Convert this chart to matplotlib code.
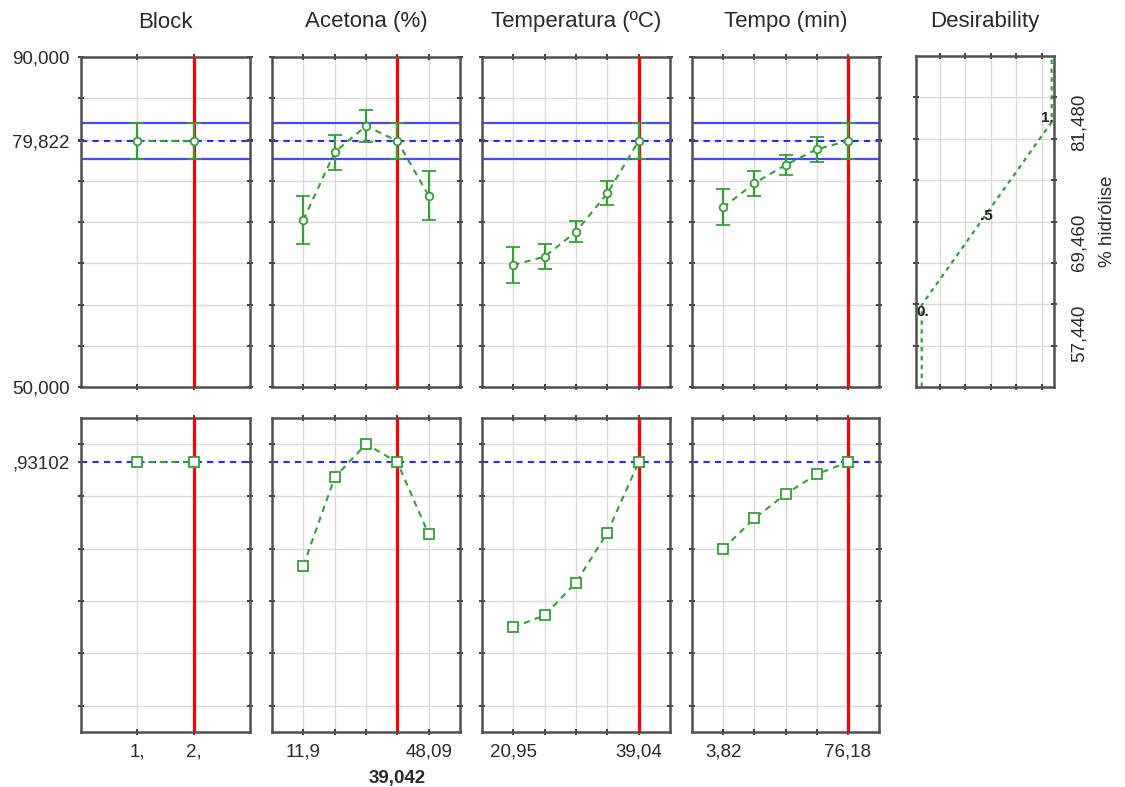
import numpy as np
import matplotlib
matplotlib.use('Agg')
import matplotlib.pyplot as plt
import matplotlib.transforms as mtransforms

plt.rcParams['font.family'] = ['Liberation Sans', 'DejaVu Sans']

# ---- valores ----
fatores = ['Block', 'Acetona (%)', 'Temperatura (ºC)', 'Tempo (min)']

niveis_block = [1, 2]
niveis_acetona = [11.9, 20.95, 30.0, 39.042, 48.09]
niveis_temp = [20.95, 25.47, 30.0, 34.52, 39.04]
niveis_tempo = [3.82, 21.91, 40.0, 58.09, 76.18]

# % hidrolise prevista e meia largura do intervalo de confianca
hid_block = [79.822, 79.822]
ic_block = [2.22, 2.22]
hid_acetona = [70.24, 78.45, 81.64, 79.822, 73.19]
ic_acetona = [2.87, 2.12, 1.90, 2.22, 3.00]
hid_temp = [64.79, 65.80, 68.83, 73.48, 79.822]
ic_temp = [2.17, 1.55, 1.25, 1.45, 2.22]
hid_tempo = [71.78, 74.69, 76.91, 78.81, 79.822]
ic_tempo = [2.16, 1.55, 1.21, 1.48, 2.22]

# desirability
des_block = [0.931, 0.931]
des_acetona = [0.535, 0.873, 1.0, 0.931, 0.656]
des_temp = [0.300, 0.346, 0.471, 0.662, 0.931]
des_tempo = [0.601, 0.716, 0.809, 0.885, 0.931]

otimo = [2, 39.042, 39.04, 76.18]
hid_otimo = 79.822
ic_otimo = 2.22
des_otimo = 0.93102

rotulos_x = [['1,', '2,'], ['11,9', '48,09'], ['20,95', '39,04'], ['3,82', '76,18']]
rotulo_otimo = [None, '39,042', None, None]

# funcao desirability da resposta
desir_valor = [0, 0.5, 1]
desir_resp = [57.44, 69.46, 81.48]
desir_rotulos = ['0.', '.5', '1.']
desir_ticks = ['57,440', '69,460', '81,480']

niveis = [niveis_block, niveis_acetona, niveis_temp, niveis_tempo]
hid = [hid_block, hid_acetona, hid_temp, hid_tempo]
ic = [ic_block, ic_acetona, ic_temp, ic_tempo]
des = [des_block, des_acetona, des_temp, des_tempo]

##################################################################
W, H = 1125, 787
fig = plt.figure(figsize=(W / 100, H / 100), dpi=100)


def caixa(x0, y0, x1, y1):
    return [x0 / W, 1 - y1 / H, (x1 - x0) / W, (y1 - y0) / H]


colunas = [(81, 250), (272, 460), (482, 670), (692, 879)]
verde = '#35a035'
azul = '#4848ff'
cinza_txt = '#2a2a2a'
fs = 13.5


def estilo(ax):
    for s in ax.spines.values():
        s.set_color('#505050')
        s.set_linewidth(1.8)
    ax.set_axisbelow(True)
    ax.tick_params(which='both', direction='inout', length=4, width=1.2,
                   color='#222222', top=True, right=True,
                   labelsize=fs, labelcolor=cinza_txt, pad=6)


for i in range(4):
    x0, x1 = colunas[i]
    lv = niveis[i]
    if i == 0:
        xlim = (0, 3)
    else:
        passo = (lv[-1] - lv[0]) / (len(lv) - 1)
        xlim = (lv[0] - passo, lv[-1] + passo)

    # ---- linha de cima: % hidrolise ----
    ax = fig.add_axes(caixa(x0, 57, x1, 387))
    estilo(ax)
    ax.set_xlim(*xlim)
    ax.set_ylim(50, 90)
    ax.set_xticks(lv)
    ax.set_yticks([50, hid_otimo, 90])
    ax.set_yticks(np.arange(55, 90, 5), minor=True)
    ax.grid(True, axis='x', which='major', color='#dadada', lw=1)
    ax.grid(True, axis='y', which='minor', color='#dadada', lw=1)
    ax.tick_params(labelbottom=False)
    if i == 0:
        ax.set_yticklabels(['50,000', '79,822', '90,000'])
    else:
        ax.tick_params(labelleft=False)

    ax.axhline(hid_otimo + ic_otimo, color=azul, lw=1.6, zorder=2)
    ax.axhline(hid_otimo - ic_otimo, color=azul, lw=1.6, zorder=2)
    ax.axhline(hid_otimo, color='#2a2aff', lw=1.5, ls=(0, (3, 2.5)), zorder=2)
    ax.axvline(otimo[i], color='red', lw=2.3, zorder=3)
    ax.errorbar(lv, hid[i], yerr=ic[i], color=verde, lw=1.5, ls=(0, (3, 2.5)),
                marker='o', ms=5.5, mfc='white', mec=verde, mew=1.3,
                capsize=5, capthick=1.4, elinewidth=1.6, zorder=4)

    fig.text((x0 + x1) / 2 / W, 1 - 22 / H, fatores[i], ha='center',
             va='center', fontsize=16, color=cinza_txt)

    # ---- linha de baixo: desirability ----
    ax2 = fig.add_axes(caixa(x0, 418, x1, 732))
    estilo(ax2)
    ax2.set_xlim(*xlim)
    ax2.set_ylim(-0.1, 1.1)
    ax2.set_xticks(lv)
    rot = [''] * len(lv)
    rot[0], rot[-1] = rotulos_x[i]
    ax2.set_xticklabels(rot)
    ax2.set_yticks([des_otimo])
    ax2.set_yticks(np.arange(0, 1.01, 0.2), minor=True)
    ax2.grid(True, axis='x', which='major', color='#dadada', lw=1)
    ax2.grid(True, axis='y', which='minor', color='#dadada', lw=1)
    if i == 0:
        ax2.set_yticklabels([',93102'])
    else:
        ax2.tick_params(labelleft=False)

    ax2.axhline(des_otimo, color='#2a2aff', lw=1.5, ls=(0, (3, 2.5)), zorder=2)
    ax2.axvline(otimo[i], color='red', lw=2.3, zorder=3)
    ax2.plot(lv, des[i], color=verde, lw=1.5, ls=(0, (3, 2.5)),
             marker='s', ms=6.5, mfc='white', mec=verde, mew=1.3, zorder=4)

    if rotulo_otimo[i]:
        trans = mtransforms.blended_transform_factory(ax2.transData, ax2.transAxes)
        ax2.text(otimo[i], -0.147, rotulo_otimo[i], transform=trans,
                 ha='center', va='center', fontsize=fs, fontweight='bold',
                 color=cinza_txt)

# ---- painel da funcao desirability ----
axd = fig.add_axes(caixa(916, 56, 1054, 387))
estilo(axd)
ylim_d = (46.67, 90.15)
axd.set_xlim(-0.044, 1.018)
axd.set_ylim(*ylim_d)
axd.set_xticks([])
axd.set_xticks(np.linspace(0.14, 0.925, 5), minor=True)
axd.set_yticks(desir_resp)
axd.set_yticks(np.linspace(ylim_d[0], ylim_d[1], 9)[1:-1], minor=True)
axd.grid(True, which='minor', color='#dadada', lw=1)
axd.tick_params(which='major', length=0, labelleft=False, labelright=True,
                pad=12)
axd.set_yticklabels(desir_ticks, rotation=90)
for t, va in zip(axd.get_yticklabels(), ['top', 'top', 'center']):
    t.set_va(va)
axd.yaxis.set_label_position('right')
axd.set_ylabel('% hidrólise', fontsize=fs, color=cinza_txt, rotation=90,
               labelpad=8)

axd.plot([0] + desir_valor + [1], [ylim_d[0]] + desir_resp + [ylim_d[1]],
         color=verde, lw=1.6, ls=(0, (2, 2)), zorder=4)
for d, r, txt, dx, dy in zip(desir_valor, desir_resp, desir_rotulos,
                             [1, 0, -3], [-5, -2, 3]):
    axd.annotate(txt, (d, r), xytext=(dx, dy), textcoords='offset points',
                 ha='center', va='center', fontsize=11, fontweight='bold',
                 color='#222222', zorder=5)

fig.text((916 + 1054) / 2 / W, 1 - 22 / H, 'Desirability', ha='center',
         va='center', fontsize=16, color=cinza_txt)

plt.savefig('out.png', dpi=100, facecolor='white')
